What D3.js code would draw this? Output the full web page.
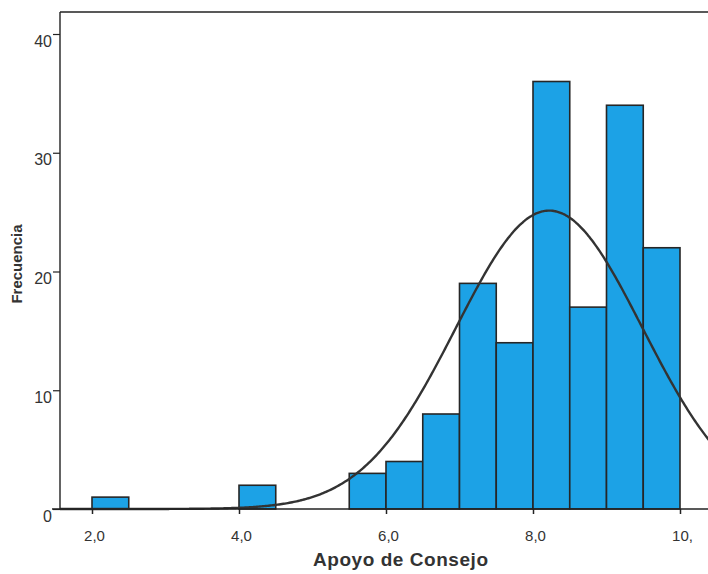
<!DOCTYPE html>
<html>
<head>
<meta charset="utf-8">
<script src="https://cdn.jsdelivr.net/npm/d3@7"></script>
<style>
  html, body { margin: 0; padding: 0; background: #fff; }
  svg { display: block; }
  .tick text { font-family: "Liberation Sans", Arial, sans-serif; fill: #333; }
</style>
</head>
<body>
<svg id="chart" width="708" height="574"></svg>
<script>
// Histogram of "Apoyo de Consejo" with fitted normal curve
const binStarts = [2.0, 4.0, 5.5, 6.0, 6.5, 7.0, 7.5, 8.0, 8.5, 9.0, 9.5];
const counts    = [1,   2,   3,   4,   8,   19,  14,  36,  17,  34,  22];
const binWidth  = 0.5;

const xTickValues = [2, 4, 6, 8, 10];
const xTickLabels = ["2,0", "4,0", "6,0", "8,0", "10,"];
const yTickValues = [0, 10, 20, 30, 40];

// Fitted normal distribution parameters
const mean = 8.22;
const stdDev = 1.27;
const nCases = d3.sum(counts);

const svg = d3.select("#chart");
const W = 708;

const x = d3.scaleLinear().domain([2, 10]).range([92, 680]);
const y = d3.scaleLinear().domain([0, 40]).range([509, 34]);

const axisX = 60;      // position of the vertical axis
const frameTop = 12;   // top border of the plot area

// plot frame: top border
svg.append("line")
  .attr("x1", axisX).attr("x2", W)
  .attr("y1", frameTop).attr("y2", frameTop)
  .attr("stroke", "#222").attr("stroke-width", 1.3);

// bars
svg.append("g").selectAll("rect")
  .data(binStarts.map((s, i) => ({ s, c: counts[i] })))
  .join("rect")
  .attr("x", d => x(d.s))
  .attr("width", d => x(d.s + binWidth) - x(d.s))
  .attr("y", d => y(d.c))
  .attr("height", d => y(0) - y(d.c))
  .attr("fill", "#1ca2e6")
  .attr("stroke", "#262626")
  .attr("stroke-width", 1.6);

// normal curve scaled to frequency
const density = v => nCases * binWidth / (stdDev * Math.sqrt(2 * Math.PI)) *
  Math.exp(-0.5 * Math.pow((v - mean) / stdDev, 2));
const xs = d3.range(x.invert(axisX), x.invert(W) + 0.05, 0.02);
svg.append("path")
  .datum(xs)
  .attr("fill", "none")
  .attr("stroke", "#333")
  .attr("stroke-width", 2.4)
  .attr("d", d3.line().x(v => x(v)).y(v => y(density(v))).curve(d3.curveBasis));

// x axis
const gx = svg.append("g").attr("transform", `translate(0,${y(0)})`)
  .call(d3.axisBottom(x).tickValues(xTickValues)
    .tickFormat((d, i) => xTickLabels[i]).tickSize(5).tickSizeOuter(0));
gx.select(".domain").remove();
gx.selectAll(".tick line").attr("stroke", "#222").attr("stroke-width", 1.5);
gx.selectAll(".tick text").attr("font-size", 15).attr("dy", "1.6em").attr("dx", 2);
svg.append("line")
  .attr("x1", 52).attr("x2", W)
  .attr("y1", y(0)).attr("y2", y(0))
  .attr("stroke", "#222").attr("stroke-width", 1.6);

// y axis
const gy = svg.append("g").attr("transform", `translate(${axisX},0)`)
  .call(d3.axisLeft(y).tickValues(yTickValues).tickSize(7).tickSizeOuter(0));
gy.select(".domain").remove();
gy.selectAll(".tick line").attr("stroke", "#222").attr("stroke-width", 1.2);
gy.selectAll(".tick text").attr("font-size", 16).attr("dy", "0.75em").attr("x", -8);
svg.append("line")
  .attr("x1", axisX).attr("x2", axisX)
  .attr("y1", frameTop).attr("y2", y(0))
  .attr("stroke", "#222").attr("stroke-width", 1.4);

// axis titles
svg.append("text")
  .attr("x", 313).attr("y", 566)
  .attr("font-family", "Liberation Sans, Arial, sans-serif")
  .attr("font-weight", "bold")
  .attr("font-size", 19)
  .attr("textLength", 175)
  .attr("fill", "#333")
  .text("Apoyo de Consejo");

svg.append("text")
  .attr("transform", "translate(22,264) rotate(-90)")
  .attr("text-anchor", "middle")
  .attr("font-family", "Liberation Sans, Arial, sans-serif")
  .attr("font-weight", "bold")
  .attr("font-size", 15)
  .attr("fill", "#333")
  .text("Frecuencia");
</script>
</body>
</html>
